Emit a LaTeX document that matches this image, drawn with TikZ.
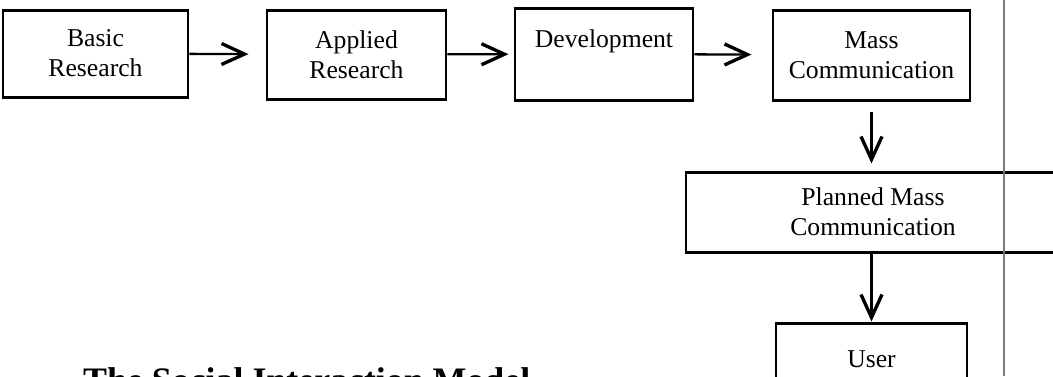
\documentclass[tikz,border=0pt]{standalone}
\usepackage{fontspec}
\setmainfont{Liberation Serif}
\usetikzlibrary{arrows.meta, positioning, calc}
\definecolor{rulegray}{HTML}{7A7A7A}

\begin{document}
\begin{tikzpicture}[
  every node/.style={font=\fontsize{14.6}{17.1}\selectfont},
  stagebox/.style={rectangle, draw=black, line width=1.7pt, minimum width=#1, align=center, inner sep=0pt},
  flow/.style={-{Straight Barb[length=0.46cm, width=0.42cm, line width=1.9pt]}, line width=1.3pt},
]
\useasboundingbox (0,0) rectangle (21.06,-7.52);

% Top row
\node[stagebox=3.70cm, minimum height=1.74cm] (basic) at (1.91, -1.07) {Basic\\Research};
\node[stagebox=3.58cm, minimum height=1.78cm] (applied) at (7.13, -1.09) {Applied\\Research};
\node[stagebox=3.56cm, minimum height=1.84cm] (devel) at (12.08, -1.08) {Development\\\mbox{}};
\node[stagebox=3.94cm, minimum height=1.80cm] (mass) at (17.43, -1.10) {Mass\\Communication};

% Right column
\node[stagebox=7.48cm, minimum height=1.60cm] (planned) at (17.46, -4.24) {Planned Mass\\Communication};
\node[stagebox=3.82cm, minimum height=2.06cm] (user) at (17.43, -7.49) {User\\\mbox{}};

% Title
\node[anchor=base west, font=\fontsize{20.4}{24}\selectfont\bfseries] (title) at (1.54, -7.84) {The Social Interaction Model};

% Connections
\draw[flow, shorten >=0.34cm] (basic) -- (applied);
\draw[flow, shorten >=0.10cm] (applied) -- (devel);
\draw[flow, shorten >=0.40cm] (devel) -- (mass);
\draw[flow, shorten <=0.20cm, shorten >=0.14cm] (mass.south) -- (mass.south |- planned.north);
\draw[flow] (mass.south |- planned.south) -- (mass.south |- user.north);

% margin rule
\draw[rulegray, line width=1.1pt] (20.08, 0) -- (20.08, -7.52);

\end{tikzpicture}
\end{document}
